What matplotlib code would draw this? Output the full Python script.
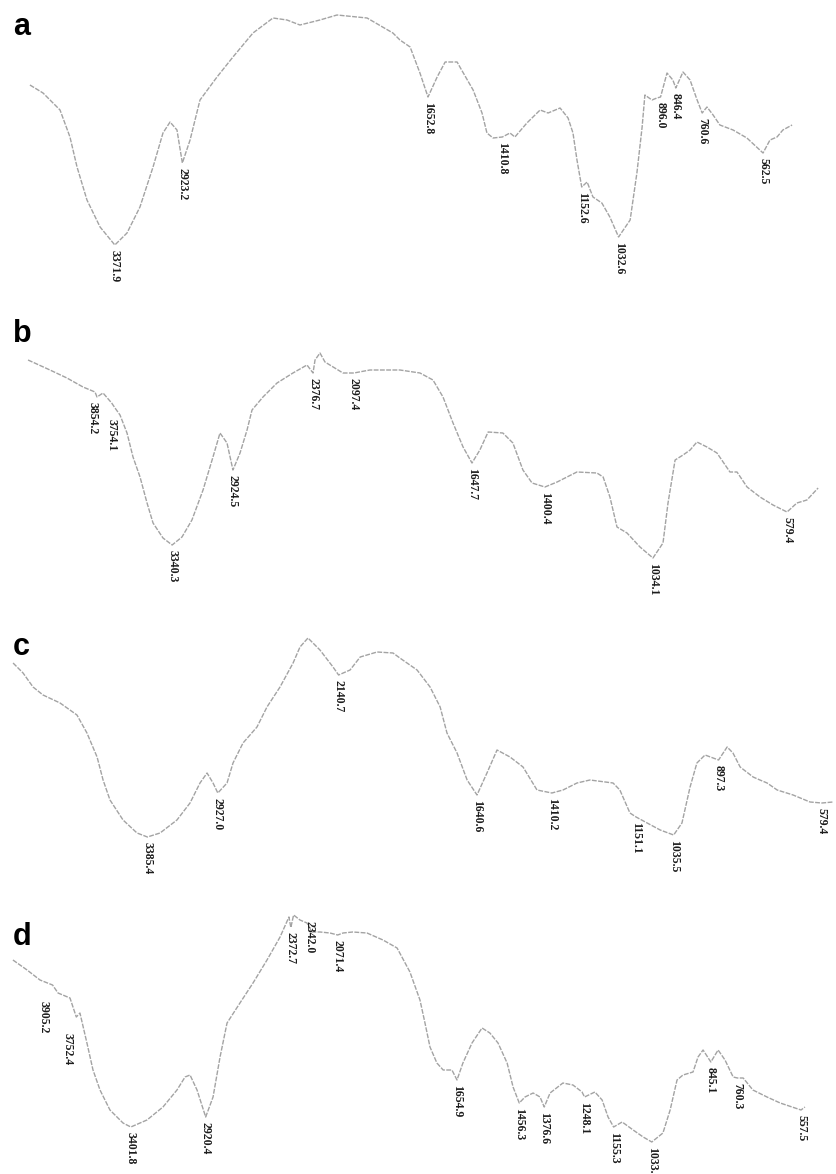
import numpy as np
import matplotlib
matplotlib.use("Agg")
import matplotlib.pyplot as plt

# ---------------- data: wavenumber (cm-1) and transmittance (a.u.) ----------------
a_wn = [3936, 3849, 3736, 3670, 3623, 3557, 3470, 3371.9, 3291, 3205,
        3118, 3052, 3005, 2959, 2923.2, 2872, 2806, 2693, 2587, 2454,
        2321, 2228, 2142, 2009, 1949, 1851, 1767, 1744, 1711, 1679,
        1652.8, 1623, 1597, 1558, 1549, 1506, 1477, 1461, 1441, 1410.8,
        1386, 1370, 1331, 1288, 1262, 1223, 1197, 1181, 1168, 1152.6,
        1135, 1116, 1087, 1061, 1032.6, 995, 973, 956, 947, 924,
        908, 896, 875, 856, 846.4, 823, 800, 777, 760.6, 745,
        725, 703, 660, 615, 562.5, 540, 517, 498, 468]
a_T = [66, 62.8, 56, 45.2, 33.2, 20, 9.2, 2, 6.8, 17.2,
       33.2, 46.8, 51.2, 48, 34.8, 44, 60, 69.2, 77.2, 86.8,
       92.8, 92, 90, 92, 94, 92.8, 86.8, 84, 81.2, 70.8,
       61.2, 69.2, 75.2, 75.2, 73.2, 64, 54.8, 46.8, 44.8, 45.2,
       46.8, 45.2, 50.8, 56, 54.8, 56.8, 52.8, 46.8, 36, 25.2,
       27.2, 21.2, 18.8, 13.2, 5.2, 12, 30.8, 49.2, 62, 60,
       60.8, 61.2, 70.8, 68, 64.8, 71.2, 68, 60, 54.8, 57.2,
       54, 50, 48, 44.8, 38.8, 44, 45.2, 48, 50]
a_peaks = [3371.9, 2923.2, 1652.8, 1410.8, 1152.6, 1032.6, 896.0, 846.4, 760.6, 562.5]

b_wn = [4326, 4176, 4060, 3950, 3868, 3854.2, 3813, 3754.1, 3731, 3697,
        3649, 3608, 3560, 3512, 3471, 3403, 3340.3, 3273, 3205, 3129,
        3061, 3013, 2965, 2924.5, 2876, 2828, 2794, 2719, 2623, 2514,
        2418, 2376.7, 2363, 2329, 2295, 2172, 2097.4, 1994, 1892, 1824,
        1780, 1746, 1712, 1678, 1647.7, 1621, 1593, 1543, 1509, 1475,
        1444, 1400.4, 1359, 1292, 1224, 1203, 1180, 1156, 1122, 1078,
        1034.1, 1000, 983, 959, 932, 908, 885, 851, 817, 773,
        749, 715, 671, 627, 579.4, 546, 512, 474]
b_T = [72, 68, 64.8, 61.2, 59.2, 57.2, 58.8, 54.8, 52.8, 50,
       42.8, 33.2, 25.2, 14.8, 6.8, 0.8, -2, 1.2, 8, 20,
       33.2, 42.8, 38.8, 28, 34.8, 44, 52, 57.2, 62.8, 66.8,
       70, 66.8, 72, 74.8, 71.2, 66.8, 66.8, 68, 68, 66.8,
       64, 57.2, 46.8, 37.2, 30.8, 36, 43.2, 42.8, 38.8, 28,
       22.8, 21.2, 23.2, 27.2, 26.8, 25.2, 17.2, 5.2, 2.8, -2.8,
       -7.2, -1.2, 14.8, 32, 34, 36, 39.2, 37.2, 34.8, 27.2,
       27.2, 21.2, 17.2, 14, 11.2, 14.8, 16, 20.8]
b_peaks = [3854.2, 3754.1, 3340.3, 2924.5, 2376.7, 2097.4, 1647.7, 1400.4, 1034.1, 579.4]

c_wn = [4260, 4195, 4130, 4065, 3954, 3844, 3779, 3713, 3674, 3629,
        3544, 3453, 3385.4, 3303, 3193, 3108, 3043, 2997, 2958, 2927.0,
        2867, 2828, 2763, 2672, 2607, 2522, 2437, 2392, 2340, 2262,
        2177, 2140.7, 2066, 2000, 1948, 1899, 1878, 1825, 1785, 1754,
        1733, 1702, 1671, 1640.6, 1610, 1579, 1539, 1499, 1456, 1410.2,
        1376, 1333, 1293, 1222, 1201, 1170, 1151.1, 1117, 1077, 1035.5,
        1010, 985, 964, 939, 897.3, 871, 853, 831, 791, 770,
        748, 717, 668, 616, 579.4, 545]
c_T = [66.8, 62.8, 57.2, 54, 50.8, 46, 38.8, 29.2, 20, 12,
       4, -1.2, -2.8, -1.2, 4, 10.8, 18.8, 22.8, 18.8, 14.8,
       18.8, 26.8, 34.8, 41.2, 49.2, 57.2, 66.8, 73.2, 76.8, 72,
       65.2, 62, 64, 69.2, 71.2, 70.8, 68.8, 64, 57.2, 49.2,
       38.8, 30.8, 20, 14, 22.8, 32, 29.2, 25.2, 16, 14.8,
       16, 18.8, 20, 18.8, 16, 6.8, 5.2, 2.8, 0, -2,
       2.8, 17.2, 26.8, 30, 28, 33.2, 30.8, 25.2, 21.2, 20,
       18.8, 16, 14, 11.2, 10.8, 11.2]
c_peaks = [3385.4, 2927.0, 2140.7, 1640.6, 1410.2, 1151.1, 1035.5, 897.3, 579.4]

d_wn = [4160, 4069, 3986, 3905.2, 3870, 3793, 3752.4, 3729, 3684, 3645,
        3600, 3536, 3452, 3401.8, 3298, 3195, 3105, 3053, 3021, 2976,
        2920.4, 2873, 2828, 2783, 2700, 2616, 2526, 2442, 2385, 2372.7,
        2355, 2314, 2269, 2237, 2185, 2121, 2071.4, 2037, 1987, 1942,
        1891, 1846, 1805, 1773, 1757, 1741, 1719, 1699, 1671, 1654.9,
        1636, 1607, 1575, 1550, 1524, 1495, 1476, 1456.3, 1438, 1412,
        1390, 1376.6, 1358, 1317, 1285, 1256, 1248.1, 1215, 1192, 1173,
        1155.3, 1128, 1093, 1061, 1033.5, 998, 975, 953, 934, 902,
        886, 870, 845.1, 822, 800, 774, 760.3, 742, 711, 666,
        624, 557.5, 545]
d_T = [64, 60, 56, 54, 50.8, 48.8, 41.2, 42.8, 30.8, 20,
       12, 4, -1.2, -2.8, 0, 5.2, 12, 17.2, 18, 12,
       1.2, 9.2, 25.2, 38.8, 46.8, 54.8, 64, 73.2, 81.2, 77,
       82, 80, 78.8, 75.2, 75.2, 74.8, 74, 74.8, 75.2, 74.8,
       72, 68.8, 59.2, 48, 38.8, 29.2, 22.8, 20, 20, 16,
       22.8, 30.8, 36.8, 34.8, 30.8, 22.8, 13.2, 6.8, 9.2, 10.8,
       9.2, 5.2, 10.8, 14.8, 14, 11.2, 9.2, 11.2, 8, 1.2,
       -2.8, -0.8, -4, -6.8, -8.8, -5.2, 4, 16, 18, 19.2,
       25.2, 28, 23.2, 28, 24, 17.2, 16.8, 16.8, 12, 9.2,
       6.8, 4, 5.2]
d_peaks = [3905.2, 3752.4, 3401.8, 2920.4, 2372.7, 2342.0, 2071.4, 1654.9, 1456.3,
           1376.6, 1248.1, 1155.3, 1033.5, 845.1, 760.3, 557.5]

# ---------------- layout (pixels) ----------------
W, H = 836, 1174
panels = [
    dict(letter='a', wn=a_wn, T=a_T, peaks=a_peaks, shift={}, top=0, h=290,
         p0=321.3, slo=0.3073, shi=0.1505, base=35),
    dict(letter='b', wn=b_wn, T=b_T, peaks=b_peaks, shift={3854.2: (-3, 0), 3754.1: (0, -8)},
         top=290, h=290, p0=368.1, slo=0.2949, shi=0.1462, base=342),
    dict(letter='c', wn=c_wn, T=c_T, peaks=c_peaks, shift={}, top=580, h=290,
         p0=360.2, slo=0.325, shi=0.1536, base=655),
    dict(letter='d', wn=d_wn, T=d_T, peaks=d_peaks,
         shift={3905.2: (-6.5, -8), 3752.4: (-6, -8), 2342.0: (10, 0)},
         top=870, h=304, p0=348.8, slo=0.3135, shi=0.1555, base=945),
]

fig = plt.figure(figsize=(W / 100, H / 100), dpi=100)
fig.patch.set_facecolor('white')

for p in panels:
    ax = fig.add_axes([0, 1 - (p['top'] + p['h']) / H, 1, p['h'] / H])
    slo, shi = p['slo'], p['shi']

    def fwd(w, a=slo, b=shi):
        w = np.asarray(w, dtype=float)
        return np.where(w <= 2000, (w - 2000) * a, (w - 2000) * b)

    def inv(u, a=slo, b=shi):
        u = np.asarray(u, dtype=float)
        return np.where(u <= 0, 2000 + u / a, 2000 + u / b)

    ax.set_xscale('function', functions=(fwd, inv))
    wn = np.array(p['wn'], dtype=float)
    T = np.array(p['T'], dtype=float)
    ax.plot(wn, T, color='#a3a3a3', lw=1.0, linestyle=(0, (3.5, 1.0)),
            solid_capstyle='round')
    ax.set_xlim(2000 + p['p0'] / shi, 2000 - (W - p['p0']) / slo)
    ax.set_ylim(100 - 0.4 * p['h'], 100)
    ax.axis('off')

    for pk in p['peaks']:
        ty = np.interp(pk, wn[::-1], T[::-1])
        dx, dy = p['shift'].get(pk, (0, 0))
        ax.annotate(f"{pk:.1f}", xy=(pk, ty), xytext=(dx, -3.5 + dy),
                    textcoords='offset points', rotation=-90,
                    ha='center', va='top', fontsize=8.5,
                    family='Liberation Serif', fontweight='bold',
                    color='#1c1c1c', annotation_clip=False)

    fig.text(13 / W, 1 - p['base'] / H, p['letter'], fontsize=22,
             fontweight='bold', family='Liberation Sans',
             ha='left', va='baseline', color='black')

fig.savefig('out.png', dpi=100, facecolor='white')
